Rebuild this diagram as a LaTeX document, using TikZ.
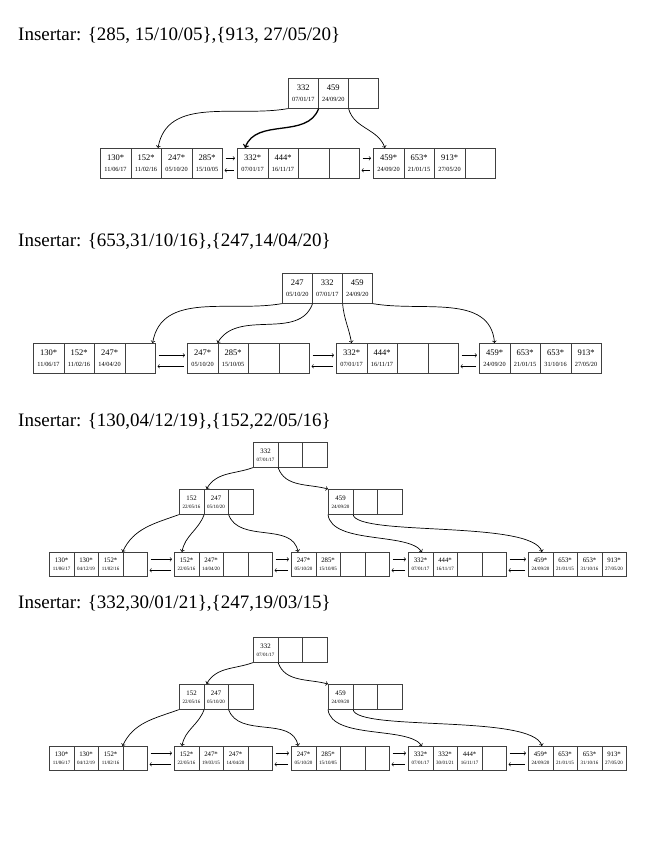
\documentclass[tikz,border=0pt]{standalone}
\usepackage{fontspec}
\setmainfont{Liberation Serif}

\begin{document}
\begin{tikzpicture}[x=1pt, y=-1pt,
    titulo/.style={anchor=base west, inner sep=0pt, font=\fontsize{19}{22}\selectfont},
    celda/.style={draw=black!75, line width=0.6pt, anchor=north west, minimum width=30.5pt,
      minimum height=30pt, inner sep=0pt, align=center, font=\fontsize{8.5}{9}\selectfont},
    celdap/.style={celda, minimum width=24.5pt, minimum height=24pt, font=\fontsize{6.8}{7}\selectfont},
    flecha/.style={->, line width=0.7pt},
    enlace/.style={->, line width=0.6pt, shorten <=3pt, shorten >=2pt}
  ]

    \useasboundingbox (0,0) rectangle (646,848);

    % Date size in the big trees
    \def\ff{\fontsize{6.3}{7}\selectfont}

    % ---- Insertar 285 y 913 ----
    \node[titulo] (tit1) at (18,41) {Insertar: \{285, 15/10/05\},\{913, 27/05/20\}};

    \foreach \k/\f [count=\i from 0] in {332/{07/01/17}, 459/{24/09/20}, {}/{}}
        \node[celda, minimum width=30pt] (t1r-\i) at ({288+30*\i},78) {\k\\[2pt]{\ff\f}};

    \foreach \k/\f [count=\i from 0] in {130*/{11/06/17}, 152*/{11/02/16}, 247*/{05/10/20}, 285*/{15/10/05}}
        \node[celda] (t1h1-\i) at ({100+30.5*\i},148) {\k\\[2pt]{\ff\f}};
    \foreach \k/\f [count=\i from 0] in {332*/{07/01/17}, 444*/{16/11/17}, {}/{}, {}/{}}
        \node[celda] (t1h2-\i) at ({237+30.5*\i},148) {\k\\[2pt]{\ff\f}};
    \foreach \k/\f [count=\i from 0] in {459*/{24/09/20}, 653*/{21/01/15}, 913*/{27/05/20}, {}/{}}
        \node[celda] (t1h3-\i) at ({373+30.5*\i},148) {\k\\[2pt]{\ff\f}};

    \draw[flecha] (t1r-0.south west) to[out=190, in=80] ([xshift=-3pt]t1h1-2.north west);
    \draw[flecha, line width=1.3pt] (t1r-0.south east) to[out=250, in=70] ([xshift=8pt]t1h2-0.north west);
    \draw[flecha] (t1r-1.south east) to[out=-75, in=110] ([xshift=12pt]t1h3-0.north west);

    \draw[enlace] ([yshift=5pt]t1h1-3.east) -- ([yshift=5pt]t1h2-0.west);
    \draw[enlace] ([yshift=-7pt]t1h2-0.west) -- ([yshift=-7pt]t1h1-3.east);
    \draw[enlace] ([yshift=5pt]t1h2-3.east) -- ([yshift=5pt]t1h3-0.west);
    \draw[enlace] ([yshift=-7pt]t1h3-0.west) -- ([yshift=-7pt]t1h2-3.east);

    % ---- Insertar 653 y 247 ----
    \node[titulo] (tit2) at (18,246) {Insertar: \{653,31/10/16\},\{247,14/04/20\}};

    \foreach \k/\f [count=\i from 0] in {247/{05/10/20}, 332/{07/01/17}, 459/{24/09/20}}
        \node[celda, minimum width=30pt] (t2r-\i) at ({282+30*\i},273) {\k\\[2pt]{\ff\f}};

    \foreach \k/\f [count=\i from 0] in {130*/{11/06/17}, 152*/{11/02/16}, 247*/{14/04/20}, {}/{}}
        \node[celda] (t2h1-\i) at ({33+30.5*\i},343) {\k\\[2pt]{\ff\f}};
    \foreach \k/\f [count=\i from 0] in {247*/{05/10/20}, 285*/{15/10/05}, {}/{}, {}/{}}
        \node[celda] (t2h2-\i) at ({187+30.5*\i},343) {\k\\[2pt]{\ff\f}};
    \foreach \k/\f [count=\i from 0] in {332*/{07/01/17}, 444*/{16/11/17}, {}/{}, {}/{}}
        \node[celda] (t2h3-\i) at ({336+30.5*\i},343) {\k\\[2pt]{\ff\f}};
    \foreach \k/\f [count=\i from 0] in {459*/{24/09/20}, 653*/{21/01/15}, 653*/{31/10/16}, 913*/{27/05/20}}
        \node[celda] (t2h4-\i) at ({479+30.5*\i},343) {\k\\[2pt]{\ff\f}};

    \draw[flecha] (t2r-0.south west) to[out=190, in=80] ([xshift=-3pt]t2h1-3.north east);
    \draw[flecha] (t2r-0.south east) to[out=250, in=60] (t2h2-1.north west);
    \draw[flecha] (t2r-1.south east) to[out=-85, in=100] (t2h3-0.north);
    \draw[flecha] (t2r-2.south east) to[out=-10, in=95] (t2h4-0.north);

    \foreach \a/\b in {t2h1/t2h2, t2h2/t2h3, t2h3/t2h4} {
        \draw[enlace] ([yshift=3pt]\a-3.east) -- ([yshift=3pt]\b-0.west);
        \draw[enlace] ([yshift=-8pt]\b-0.west) -- ([yshift=-8pt]\a-3.east);
    }

    % Date size in the small trees
    \def\ff{\fontsize{5}{6}\selectfont}

    % ---- Insertar 130 y 152 ----
    \node[titulo] (tit3) at (18,426) {Insertar: \{130,04/12/19\},\{152,22/05/16\}};

    \foreach \k/\f [count=\i from 0] in {332/{07/01/17}, {}/{}, {}/{}}
        \node[celdap, minimum height=25pt] (t3r-\i) at ({253+24.5*\i},442) {\k\\[1pt]{\ff\f}};
    \foreach \k/\f [count=\i from 0] in {152/{22/05/16}, 247/{05/10/20}, {}/{}}
        \node[celdap, minimum height=25pt] (t3i1-\i) at ({179+24.5*\i},489) {\k\\[1pt]{\ff\f}};
    \foreach \k/\f [count=\i from 0] in {459/{24/09/20}, {}/{}, {}/{}}
        \node[celdap, minimum height=25pt] (t3i2-\i) at ({328+24.5*\i},489) {\k\\[1pt]{\ff\f}};

    \foreach \k/\f [count=\i from 0] in {130*/{11/06/17}, 130*/{04/12/19}, 152*/{11/02/16}, {}/{}}
        \node[celdap] (t3h1-\i) at ({49+24.5*\i},552) {\k\\[1pt]{\ff\f}};
    \foreach \k/\f [count=\i from 0] in {152*/{22/05/16}, 247*/{14/04/20}, {}/{}, {}/{}}
        \node[celdap] (t3h2-\i) at ({174+24.5*\i},552) {\k\\[1pt]{\ff\f}};
    \foreach \k/\f [count=\i from 0] in {247*/{05/10/20}, 285*/{15/10/05}, {}/{}, {}/{}}
        \node[celdap] (t3h3-\i) at ({291+24.5*\i},552) {\k\\[1pt]{\ff\f}};
    \foreach \k/\f [count=\i from 0] in {332*/{07/01/17}, 444*/{16/11/17}, {}/{}, {}/{}}
        \node[celdap] (t3h4-\i) at ({408+24.5*\i},552) {\k\\[1pt]{\ff\f}};
    \foreach \k/\f [count=\i from 0] in {459*/{24/09/20}, 653*/{21/01/15}, 653*/{31/10/16}, 913*/{27/05/20}}
        \node[celdap] (t3h5-\i) at ({528+24.5*\i},552) {\k\\[1pt]{\ff\f}};

    \draw[flecha] (t3r-0.south west) to[out=200, in=60] ([xshift=3pt]t3i1-1.north west);
    \draw[flecha] (t3r-0.south east) to[out=-70, in=165] (t3i2-0.north west);
    \draw[flecha] (t3i1-0.south west) to[out=200, in=65] (t3h1-3.north west);
    \draw[flecha] (t3i1-0.south east) to[out=250, in=80] ([xshift=8pt]t3h2-0.north west);
    \draw[flecha] (t3i1-1.south east) to[out=-70, in=100] ([xshift=7pt]t3h3-0.north west);
    \draw[flecha] (t3i2-0.south west) .. controls +(4,30) and +(-14,-20) .. ([xshift=14pt]t3h4-0.north west);
    \draw[flecha] (t3i2-0.south east) .. controls +(4,22) and +(-10,-32) .. ([xshift=14pt]t3h5-0.north west);

    \foreach \a/\b in {t3h1/t3h2, t3h2/t3h3, t3h3/t3h4, t3h4/t3h5} {
        \draw[enlace] ([yshift=5pt]\a-3.east) -- ([yshift=5pt]\b-0.west);
        \draw[enlace] ([yshift=-6pt]\b-0.west) -- ([yshift=-6pt]\a-3.east);
    }

    % ---- Insertar 332 y 247 ----
    \node[titulo] (tit4) at (18,608) {Insertar: \{332,30/01/21\},\{247,19/03/15\}};

    \foreach \k/\f [count=\i from 0] in {332/{07/01/17}, {}/{}, {}/{}}
        \node[celdap, minimum height=25pt] (t4r-\i) at ({253+24.5*\i},637) {\k\\[1pt]{\ff\f}};
    \foreach \k/\f [count=\i from 0] in {152/{22/05/16}, 247/{05/10/20}, {}/{}}
        \node[celdap, minimum height=25pt] (t4i1-\i) at ({179+24.5*\i},684) {\k\\[1pt]{\ff\f}};
    \foreach \k/\f [count=\i from 0] in {459/{24/09/20}, {}/{}, {}/{}}
        \node[celdap, minimum height=25pt] (t4i2-\i) at ({328+24.5*\i},684) {\k\\[1pt]{\ff\f}};

    \foreach \k/\f [count=\i from 0] in {130*/{11/06/17}, 130*/{04/12/19}, 152*/{11/02/16}, {}/{}}
        \node[celdap] (t4h1-\i) at ({49+24.5*\i},746) {\k\\[1pt]{\ff\f}};
    \foreach \k/\f [count=\i from 0] in {152*/{22/05/16}, 247*/{19/03/15}, 247*/{14/04/20}, {}/{}}
        \node[celdap] (t4h2-\i) at ({174+24.5*\i},746) {\k\\[1pt]{\ff\f}};
    \foreach \k/\f [count=\i from 0] in {247*/{05/10/20}, 285*/{15/10/05}, {}/{}, {}/{}}
        \node[celdap] (t4h3-\i) at ({291+24.5*\i},746) {\k\\[1pt]{\ff\f}};
    \foreach \k/\f [count=\i from 0] in {332*/{07/01/17}, 332*/{30/01/21}, 444*/{16/11/17}, {}/{}}
        \node[celdap] (t4h4-\i) at ({408+24.5*\i},746) {\k\\[1pt]{\ff\f}};
    \foreach \k/\f [count=\i from 0] in {459*/{24/09/20}, 653*/{21/01/15}, 653*/{31/10/16}, 913*/{27/05/20}}
        \node[celdap] (t4h5-\i) at ({528+24.5*\i},746) {\k\\[1pt]{\ff\f}};

    \draw[flecha] (t4r-0.south west) to[out=200, in=60] ([xshift=3pt]t4i1-1.north west);
    \draw[flecha] (t4r-0.south east) to[out=-70, in=165] (t4i2-0.north west);
    \draw[flecha] (t4i1-0.south west) to[out=200, in=65] (t4h1-3.north west);
    \draw[flecha] (t4i1-0.south east) to[out=250, in=80] ([xshift=8pt]t4h2-0.north west);
    \draw[flecha] (t4i1-1.south east) to[out=-70, in=100] ([xshift=7pt]t4h3-0.north west);
    \draw[flecha] (t4i2-0.south west) .. controls +(4,30) and +(-14,-20) .. ([xshift=14pt]t4h4-0.north west);
    \draw[flecha] (t4i2-0.south east) .. controls +(4,22) and +(-10,-32) .. ([xshift=14pt]t4h5-0.north west);

    \foreach \a/\b in {t4h1/t4h2, t4h2/t4h3, t4h3/t4h4, t4h4/t4h5} {
        \draw[enlace] ([yshift=5pt]\a-3.east) -- ([yshift=5pt]\b-0.west);
        \draw[enlace] ([yshift=-6pt]\b-0.west) -- ([yshift=-6pt]\a-3.east);
    }

\end{tikzpicture}
\end{document}
